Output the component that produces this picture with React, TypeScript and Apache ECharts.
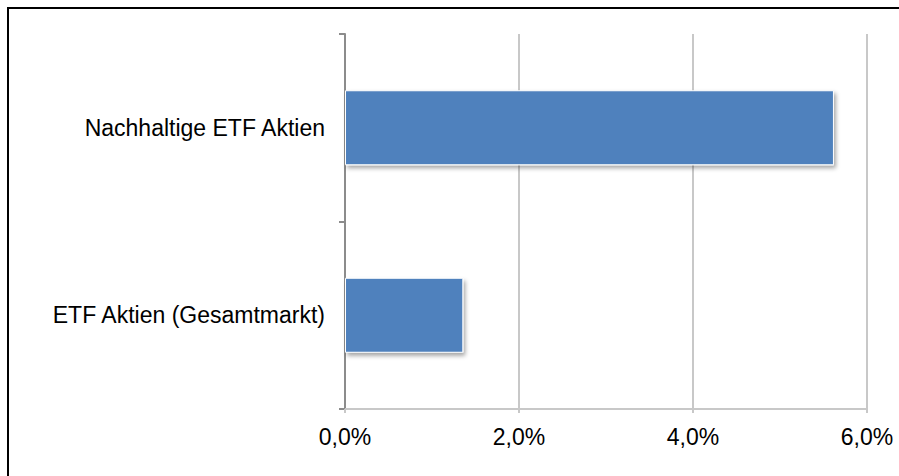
import React, { useEffect, useRef } from "react";
import * as echarts from "echarts";

const categories = ["Nachhaltige ETF Aktien", "ETF Aktien (Gesamtmarkt)"];
const values = [5.62, 1.36];
const xTicks = [0, 2, 4, 6];

export default function App() {
  const ref = useRef<HTMLDivElement>(null);
  useEffect(() => {
    document.body.style.margin = "0";
    const chart = echarts.init(ref.current!, null, { renderer: "svg" });
    chart.setOption({
      animation: false,
      backgroundColor: "#fff",
      textStyle: { fontFamily: "Liberation Sans, Arial, sans-serif" },
      graphic: [
        {
          type: "rect",
          shape: { x: 8, y: 8, width: 1000, height: 1000 },
          style: { fill: "none", stroke: "#000", lineWidth: 2 },
          silent: true,
        },
      ],
      grid: { left: 345, right: 32, top: 34, bottom: 67 },
      xAxis: {
        type: "value",
        min: xTicks[0],
        max: xTicks[xTicks.length - 1],
        interval: 2,
        axisLine: { show: true, lineStyle: { color: "#c8c8c8", width: 2 } },
        axisTick: { show: true, length: 4, lineStyle: { color: "#c8c8c8", width: 2 } },
        splitLine: { show: true, lineStyle: { color: "#c8c8c8", width: 2 } },
        axisLabel: {
          color: "#000",
          fontSize: 23,
          margin: 16,
          formatter: (v: number) => v.toFixed(1).replace(".", ",") + "%",
        },
      },
      yAxis: {
        type: "category",
        inverse: true,
        data: categories,
        axisLine: { show: true, lineStyle: { color: "#8c8c8c", width: 2 } },
        axisTick: { show: true, length: 6, alignWithLabel: false, lineStyle: { color: "#8c8c8c", width: 2 } },
        axisLabel: { color: "#000", fontSize: 23, margin: 20 },
        splitLine: { show: false },
      },
      series: [
        {
          type: "bar",
          data: values,
          barWidth: "40%",
          itemStyle: {
            color: "#4f81bd",
            borderColor: "#ffffff",
            borderWidth: 1,
            shadowColor: "rgba(0,0,0,0.35)",
            shadowBlur: 4,
            shadowOffsetX: 2,
            shadowOffsetY: 3,
          },
        },
      ],
    });
    return () => chart.dispose();
  }, []);
  return <div ref={ref} style={{ width: 899, height: 476 }} />;
}
